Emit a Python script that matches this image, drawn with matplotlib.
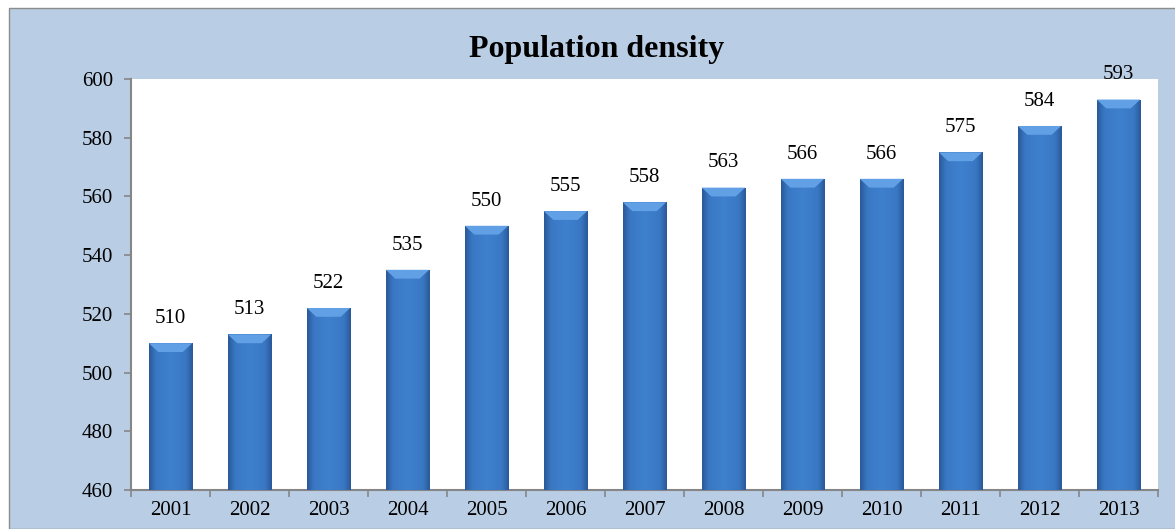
import numpy as np
import matplotlib.pyplot as plt
from matplotlib.patches import Rectangle, Polygon
from matplotlib.colors import LinearSegmentedColormap

# data
years = ['2001', '2002', '2003', '2004', '2005', '2006', '2007',
         '2008', '2009', '2010', '2011', '2012', '2013']
density = [510, 513, 522, 535, 550, 555, 558, 563, 566, 566, 575, 584, 593]
y_ticks = [460, 480, 500, 520, 540, 560, 580, 600]

plt.rcParams['font.family'] = ['Liberation Serif', 'DejaVu Serif']

W, H = 1175, 529
fig = plt.figure(figsize=(W / 100, H / 100), dpi=100)
fig.patch.set_facecolor('white')

# blue panel behind the chart
panel = Rectangle((9 / W, 0), 1.0, (H - 8) / H, transform=fig.transFigure,
                  facecolor='#B9CDE5', edgecolor='#8C8C8C', linewidth=1, zorder=-10)
fig.patches.append(panel)

ax = fig.add_axes([131 / W, (H - 490) / H, (1158 - 131) / W, (490 - 79) / H])
ax.set_facecolor('white')

x = np.arange(len(years))
bw = 0.55
bars = ax.bar(x, density, width=bw, color='#3B78C4', zorder=2)

# horizontal gradient on each bar + light bevel on top
grad = LinearSegmentedColormap.from_list(
    'g', [(0, '#2A5A98'), (0.15, '#3977C3'), (0.5, '#3F81CE'), (0.85, '#3977C3'), (1, '#2A5A98')])
ymin = y_ticks[0]
for b in bars:
    x0, w, h = b.get_x(), b.get_width(), b.get_height()
    img = ax.imshow(np.linspace(0, 1, 64).reshape(1, -1), cmap=grad, aspect='auto',
                    extent=[x0, x0 + w, ymin, h], zorder=3)
    img.set_clip_path(b)
    bev = 3.0
    ax.add_patch(Polygon([[x0, h], [x0 + w, h], [x0 + w * 0.78, h - bev], [x0 + w * 0.22, h - bev]],
                         closed=True, facecolor='#62A0E6', edgecolor='none', zorder=4))

for xi, v in zip(x, density):
    ax.annotate(str(v), (xi, v), xytext=(0, 11), textcoords='offset points',
                ha='center', va='bottom', fontsize=15, color='black')

ax.set_xlim(-0.5, len(years) - 0.5)
ax.set_ylim(ymin, y_ticks[-1])
ax.set_yticks(y_ticks)
ax.set_yticklabels([str(t) for t in y_ticks], fontsize=15)
ax.set_xticks(x)
ax.set_xticklabels(years, fontsize=15)
ax.set_xticks(np.arange(-0.5, len(years), 1), minor=True)
ax.tick_params(axis='x', which='major', length=0, pad=8)
ax.tick_params(axis='x', which='minor', length=5, color='#868686', width=1.2)
ax.tick_params(axis='y', length=5, color='#868686', width=1.2, pad=8)

for s in ['top', 'right']:
    ax.spines[s].set_visible(False)
for s in ['left', 'bottom']:
    ax.spines[s].set_color('#868686')
    ax.spines[s].set_linewidth(1.5)

fig.text(597 / W, 1 - 50 / H, 'Population density', ha='center', va='center',
         fontsize=23, fontweight='bold')

fig.savefig('out.png', dpi=100)
